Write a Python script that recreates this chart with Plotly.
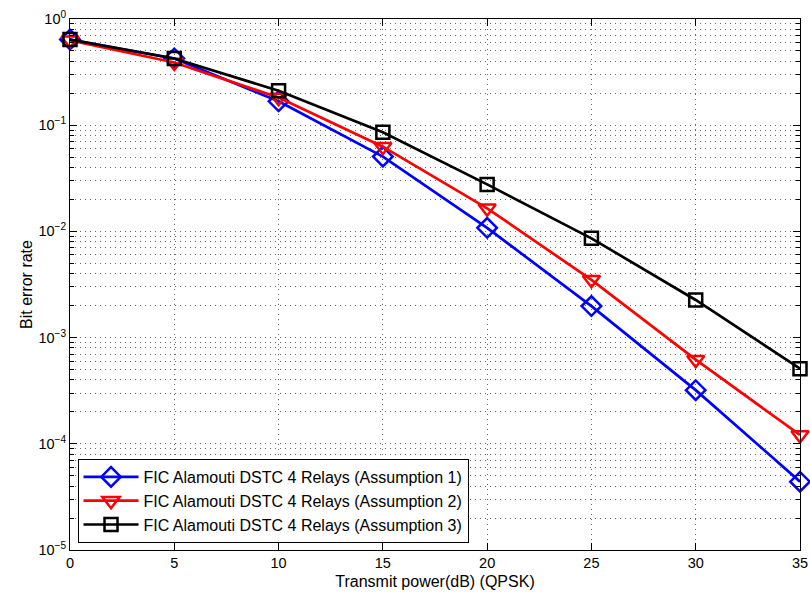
import plotly.graph_objects as go

# ---- data ----
snr_db = [0, 5, 10, 15, 20, 25, 30, 35]
ber_assump1 = [0.64, 0.425, 0.168, 0.0506, 0.0108, 0.00198, 3.2e-4, 4.4e-5]
ber_assump2 = [0.63, 0.39, 0.182, 0.0628, 0.0165, 0.0035, 6.2e-4, 1.21e-4]
ber_assump3 = [0.64, 0.425, 0.211, 0.0857, 0.0277, 0.0086, 2.26e-3, 5.1e-4]

series_names = [
    "FIC Alamouti DSTC 4 Relays (Assumption 1)",
    "FIC Alamouti DSTC 4 Relays (Assumption 2)",
    "FIC Alamouti DSTC 4 Relays (Assumption 3)",
]
series_colors = ["#0000ff", "#ff0000", "#000000"]
series_symbols = ["diamond-open", "triangle-down-open", "square-open"]
series_sizes = [15, 15, 13]

x_ticks = [0, 5, 10, 15, 20, 25, 30, 35]
y_tickvals = [1e-5, 1e-4, 1e-3, 1e-2, 1e-1, 1e0]
y_ticktext = ["10<sup>−5</sup>", "10<sup>−4</sup>", "10<sup>−3</sup>",
              "10<sup>−2</sup>", "10<sup>−1</sup>", "10<sup>0</sup>"]
decades = [-5, -4, -3, -2, -1]
minor_mults = [2, 3, 4, 5, 6, 7, 8, 9]

minor_vals = [m * 10.0 ** d for d in decades for m in minor_mults]

fig = go.Figure()
for ys, name, col, sym, sz in zip([ber_assump1, ber_assump2, ber_assump3],
                                  series_names, series_colors,
                                  series_symbols, series_sizes):
    fig.add_trace(go.Scatter(
        x=snr_db, y=ys, name=name, mode="lines+markers",
        line=dict(color=col, width=2.7),
        marker=dict(symbol=sym, size=sz, color=col,
                    line=dict(color=col, width=2.5)),
        cliponaxis=False,
    ))

font_family = "Liberation Sans, Arial, sans-serif"
grid_col = "rgba(0,0,0,0.6)"
grid_dash = "1px,4px"

fig.update_layout(
    width=810, height=597,
    margin=dict(l=70, r=10, t=19, b=47),
    paper_bgcolor="white", plot_bgcolor="white",
    font=dict(family=font_family, size=14, color="black"),
    showlegend=True,
    legend=dict(
        x=0.0103, y=0.0132, xanchor="left", yanchor="bottom",
        bgcolor="white", bordercolor="black", borderwidth=1,
        font=dict(family=font_family, size=16, color="black"),
        tracegroupgap=0, itemwidth=55,
    ),
    xaxis=dict(
        range=[0, 35], tickvals=x_ticks, ticks="inside", ticklen=7,
        tickcolor="black", showline=True, linecolor="black", linewidth=1,
        mirror="allticks", showgrid=True, gridcolor=grid_col,
        griddash=grid_dash, gridwidth=1, zeroline=False, automargin=False,
        tickfont=dict(size=14.5),
        title=dict(text="Transmit power(dB) (QPSK)", font=dict(size=16),
                   standoff=5),
    ),
    yaxis=dict(
        type="log", range=[-5, 0], tickmode="array",
        tickvals=y_tickvals, ticktext=y_ticktext,
        ticks="inside", ticklen=7, tickcolor="black",
        showline=True, linecolor="black", linewidth=1, mirror="allticks",
        showgrid=True, gridcolor=grid_col, griddash=grid_dash, gridwidth=1,
        zeroline=False, automargin=False, tickfont=dict(size=14.5),
        minor=dict(tickmode="array", tickvals=minor_vals, ticks="inside",
                   ticklen=4, tickcolor="black", showgrid=True,
                   gridcolor=grid_col, griddash=grid_dash, gridwidth=1),
        title=dict(text="Bit error rate", font=dict(size=16), standoff=1),
    ),
)

fig.write_html("out.html")
